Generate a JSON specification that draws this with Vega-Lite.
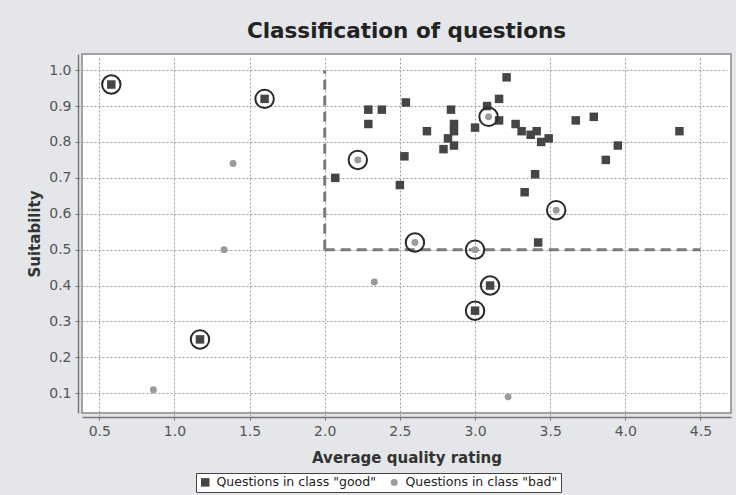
{
  "$schema": "https://vega.github.io/schema/vega-lite/v6.json",
  "autosize": {"type": "none"},
  "padding": {"left": 82, "top": 54, "right": 5, "bottom": 82},
  "width": 649,
  "height": 359,
  "background": "#e4e6ea",
  "title": {
    "text": "Classification of questions",
    "font": "DejaVu Sans",
    "fontSize": 21.5,
    "fontWeight": "bold",
    "color": "#222222",
    "anchor": "middle",
    "offset": 12
  },
  "config": {
    "view": {"fill": "white", "stroke": "#888888", "strokeWidth": 1.5},
    "axis": {
      "labelFont": "DejaVu Sans",
      "labelFontSize": 14,
      "labelColor": "#555555",
      "labelOverlap": false,
      "titleFont": "DejaVu Sans",
      "titleFontSize": 15,
      "titleFontWeight": "bold",
      "titleColor": "#333333",
      "domainColor": "#777777",
      "domainWidth": 1.5,
      "tickColor": "#777777",
      "tickSize": 3,
      "gridColor": "#9a9a9a",
      "gridDash": [2, 2],
      "gridWidth": 1,
      "offset": 4
    },
    "legend": {
      "labelFont": "DejaVu Sans",
      "labelFontSize": 12.5,
      "labelColor": "#222222",
      "strokeColor": "#444444",
      "fillColor": "#ffffff",
      "padding": 3,
      "symbolSize": 50,
      "columnPadding": 12,
      "labelOffset": 5
    }
  },
  "datasets": {
    "pts": [
      {"quality": 0.58, "suitability": 0.96, "cls": "good", "circled": true},
      {"quality": 1.60, "suitability": 0.92, "cls": "good", "circled": true},
      {"quality": 1.17, "suitability": 0.25, "cls": "good", "circled": true},
      {"quality": 3.10, "suitability": 0.40, "cls": "good", "circled": true},
      {"quality": 3.00, "suitability": 0.33, "cls": "good", "circled": true},
      {"quality": 3.21, "suitability": 0.98, "cls": "good", "circled": false},
      {"quality": 2.54, "suitability": 0.91, "cls": "good", "circled": false},
      {"quality": 3.16, "suitability": 0.92, "cls": "good", "circled": false},
      {"quality": 3.08, "suitability": 0.90, "cls": "good", "circled": false},
      {"quality": 2.29, "suitability": 0.89, "cls": "good", "circled": false},
      {"quality": 2.38, "suitability": 0.89, "cls": "good", "circled": false},
      {"quality": 2.84, "suitability": 0.89, "cls": "good", "circled": false},
      {"quality": 2.29, "suitability": 0.85, "cls": "good", "circled": false},
      {"quality": 3.16, "suitability": 0.86, "cls": "good", "circled": false},
      {"quality": 2.86, "suitability": 0.85, "cls": "good", "circled": false},
      {"quality": 2.68, "suitability": 0.83, "cls": "good", "circled": false},
      {"quality": 2.86, "suitability": 0.83, "cls": "good", "circled": false},
      {"quality": 3.00, "suitability": 0.84, "cls": "good", "circled": false},
      {"quality": 3.27, "suitability": 0.85, "cls": "good", "circled": false},
      {"quality": 3.31, "suitability": 0.83, "cls": "good", "circled": false},
      {"quality": 3.41, "suitability": 0.83, "cls": "good", "circled": false},
      {"quality": 3.37, "suitability": 0.82, "cls": "good", "circled": false},
      {"quality": 3.44, "suitability": 0.80, "cls": "good", "circled": false},
      {"quality": 3.49, "suitability": 0.81, "cls": "good", "circled": false},
      {"quality": 2.82, "suitability": 0.81, "cls": "good", "circled": false},
      {"quality": 2.86, "suitability": 0.79, "cls": "good", "circled": false},
      {"quality": 2.79, "suitability": 0.78, "cls": "good", "circled": false},
      {"quality": 2.53, "suitability": 0.76, "cls": "good", "circled": false},
      {"quality": 2.07, "suitability": 0.70, "cls": "good", "circled": false},
      {"quality": 2.50, "suitability": 0.68, "cls": "good", "circled": false},
      {"quality": 3.40, "suitability": 0.71, "cls": "good", "circled": false},
      {"quality": 3.33, "suitability": 0.66, "cls": "good", "circled": false},
      {"quality": 3.42, "suitability": 0.52, "cls": "good", "circled": false},
      {"quality": 3.67, "suitability": 0.86, "cls": "good", "circled": false},
      {"quality": 3.79, "suitability": 0.87, "cls": "good", "circled": false},
      {"quality": 4.36, "suitability": 0.83, "cls": "good", "circled": false},
      {"quality": 3.95, "suitability": 0.79, "cls": "good", "circled": false},
      {"quality": 3.87, "suitability": 0.75, "cls": "good", "circled": false},
      {"quality": 1.39, "suitability": 0.74, "cls": "bad", "circled": false},
      {"quality": 1.33, "suitability": 0.50, "cls": "bad", "circled": false},
      {"quality": 0.86, "suitability": 0.11, "cls": "bad", "circled": false},
      {"quality": 2.33, "suitability": 0.41, "cls": "bad", "circled": false},
      {"quality": 3.22, "suitability": 0.09, "cls": "bad", "circled": false},
      {"quality": 3.09, "suitability": 0.87, "cls": "bad", "circled": true},
      {"quality": 2.22, "suitability": 0.75, "cls": "bad", "circled": true},
      {"quality": 3.54, "suitability": 0.61, "cls": "bad", "circled": true},
      {"quality": 2.60, "suitability": 0.52, "cls": "bad", "circled": true},
      {"quality": 3.00, "suitability": 0.50, "cls": "bad", "circled": true}
    ],
    "bounds": [
      {"quality": 2.0, "quality2": 2.0, "suitability": 0.5, "suitability2": 1.0},
      {"quality": 2.0, "quality2": 4.5, "suitability": 0.5, "suitability2": 0.5}
    ]
  },
  "encoding": {
    "x": {"field": "quality", "type": "quantitative", "scale": {"domain": [0.385, 4.703], "nice": false, "zero": false},
      "axis": {"title": "Average quality rating", "values": [0.5, 1.0, 1.5, 2.0, 2.5, 3.0, 3.5, 4.0, 4.5], "format": ".1f", "labelPadding": 4, "titlePadding": 12, "labelOverlap": false}},
    "y": {"field": "suitability", "type": "quantitative", "scale": {"domain": [0.045, 1.045], "nice": false, "zero": false},
      "axis": {"title": "Suitability", "values": [0.1, 0.2, 0.3, 0.4, 0.5, 0.6, 0.7, 0.8, 0.9, 1.0], "format": ".1f", "labelPadding": 4, "titlePadding": 6, "labelOverlap": false}}
  },
  "layer": [
    {
      "data": {"name": "bounds"},
      "mark": {"type": "rule", "color": "#7a7a7a", "strokeWidth": 3, "strokeDash": [10, 6]},
      "encoding": {
        "x2": {"field": "quality2"},
        "y2": {"field": "suitability2"}
      }
    },
    {
      "data": {"name": "pts"},
      "mark": {"type": "point", "filled": true, "opacity": 1, "strokeWidth": 1},
      "encoding": {
        "color": {"field": "cls", "type": "nominal",
          "scale": {"domain": ["good", "bad"], "range": ["#454545", "#9a9a9a"]},
          "legend": {"title": null, "orient": "none", "legendX": 114, "legendY": 419, "direction": "horizontal",
            "labelExpr": "datum.value === 'good' ? 'Questions in class \"good\"' : 'Questions in class \"bad\"'"}},
        "shape": {"field": "cls", "type": "nominal",
          "scale": {"domain": ["good", "bad"], "range": ["square", "circle"]},
          "legend": {"title": null, "orient": "none", "legendX": 114, "legendY": 419, "direction": "horizontal",
            "labelExpr": "datum.value === 'good' ? 'Questions in class \"good\"' : 'Questions in class \"bad\"'"}},
        "size": {"field": "cls", "type": "nominal",
          "scale": {"domain": ["good", "bad"], "range": [72, 48]},
          "legend": null}
      }
    },
    {
      "data": {"name": "pts"},
      "transform": [{"filter": "datum.circled"}],
      "mark": {"type": "point", "filled": false, "shape": "circle", "size": 340, "stroke": "#2a2a2a", "strokeWidth": 2, "opacity": 1}
    }
  ]
}
